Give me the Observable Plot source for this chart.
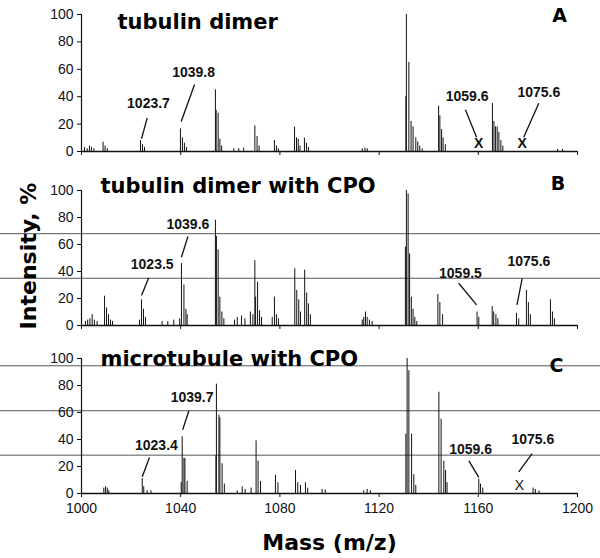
<!DOCTYPE html>
<html>
<head>
<meta charset="utf-8">
<script src="https://cdn.jsdelivr.net/npm/d3@7"></script>
<script src="https://cdn.jsdelivr.net/npm/@observablehq/plot@0.6"></script>
<style>
  html, body { margin: 0; padding: 0; background: #fff; }
  #chart { width: 600px; height: 558px; position: relative; overflow: hidden; background: #fff; }
  #chart svg { display: block; }
</style>
</head>
<body>
<div id="chart"></div>
<script>
// ---------- axis ticks ----------
const xTicks = [1000, 1040, 1080, 1120, 1160, 1200];
const yTicks = [0, 20, 40, 60, 80, 100];

// ---------- Panel A : tubulin dimer ----------
const massA = [1001.2,1002.3,1003.2,1004.0,1005.0,1008.7,1009.5,1010.4,1023.8,1024.6,1025.4,
  1039.9,1040.7,1041.5,1042.3,1054.0,1054.3,1055.1,1055.8,1056.5,1061.4,1063.4,1065.4,
  1069.9,1070.8,1071.6,1077.8,1078.6,1079.4,1085.9,1086.7,1087.4,1088.1,1089.9,1090.7,1091.5,
  1113.2,1114.3,1115.2,1130.8,1131.0,1132.0,1132.9,1133.7,1134.8,1135.6,1136.4,1137.4,
  1144.0,1144.5,1145.2,1145.8,1146.7,1165.7,1166.3,1166.9,1167.6,1168.3,1169.1,1169.9,1192.0,1194.0];
const intA = [3,2,4,3,2,6.8,4,2,8,5,3,
  16.5,10,6,3,45,30,28,9,4,2,2,2.5,
  18.7,11,4,8,4,2,17.8,10,9,4,9.7,6,3,
  2,2.5,2,40,100,65,22,18,10,7,4,2,
  33,26,16,10,5,35,22,18,18,14,8,4,1.5,1.5];
const annotA = [
  {label: "1023.7", tx: 1027.0, ty: 35.0, x1: 1026.5, y1: 24.6, x2: 1024.2, y2: 9.3},
  {label: "1039.8", tx: 1045.2, ty: 57.9, x1: 1045.6, y1: 48.9, x2: 1040.2, y2: 21.9},
  {label: "1059.6", tx: 1155.5, ty: 40.1, x1: 1154.8, y1: 30.4, x2: 1159.3, y2: 10.4},
  {label: "1075.6", tx: 1184.4, ty: 43.3, x1: 1184.4, y1: 35.3, x2: 1178.3, y2: 10.4}
];
const crossA = [{m: 1160.2, i: 5.6}, {m: 1177.7, i: 5.6}];
const scanA = [];

// ---------- Panel B : tubulin dimer with CPO ----------
const massB = [1001.6,1002.5,1003.4,1004.3,1005.2,1006.3,1009.3,1010.1,1010.9,1011.7,1012.5,
  1023.4,1024.2,1025.0,1025.8,1032.5,1034.8,1037.2,1039.6,1040.3,1041.3,1042.1,1042.6,
  1054.0,1054.4,1055.1,1055.8,1056.6,1057.4,1061.7,1062.8,1064.5,1065.9,
  1068.1,1069.1,1069.9,1070.2,1071.0,1071.8,1072.6,1076.9,1077.8,1078.6,1079.4,
  1086.0,1086.8,1087.6,1088.3,1090.0,1090.8,1091.5,1092.3,
  1113.2,1113.8,1114.5,1115.2,1116.1,1117.2,
  1130.6,1131.0,1131.7,1132.3,1133.0,1133.7,1134.4,1135.2,
  1143.7,1144.5,1145.6,1159.5,1160.2,1165.6,1166.2,1167.1,1167.9,
  1175.4,1176.3,1179.4,1180.2,1181.0,1189.1,1189.9,1190.7];
const intB = [3,4,5,8,4,3,21.7,13,8,4,3,
  4,19,12,6,3,3,4,5,46,30,12,8,
  78,66,56,21,10,5,4,6,7,5,
  10,8,48,21,32,11,6,6,21,8,5,
  42,26,19,10,41,24,16,8,
  4,6,10,6,4,3,
  58,100,97.5,53,21,12,6,3,
  23,17,8,10,6,14,10,8,5,
  9,5,26,17,8,19,10,5];
const annotB = [
  {label: "1023.5", tx: 1028.5, ty: 45.0, x1: 1027.1, y1: 35.3, x2: 1024.2, y2: 22.2},
  {label: "1039.6", tx: 1042.9, ty: 74.6, x1: 1042.9, y1: 65.9, x2: 1040.3, y2: 50.6},
  {label: "1059.5", tx: 1152.8, ty: 38.7, x1: 1152.1, y1: 31.3, x2: 1159.3, y2: 15.3},
  {label: "1075.6", tx: 1180.4, ty: 47.4, x1: 1177.7, y1: 35.0, x2: 1175.6, y2: 15.3}
];
const crossB = [];
const scanB = [68, 35];

// ---------- Panel C : microtubule with CPO ----------
const massC = [1009.0,1009.7,1010.4,1011.0,1024.5,1025.1,1026.5,1028.0,
  1040.2,1040.6,1041.3,1041.7,1042.6,1054.2,1054.4,1055.4,1055.8,1056.7,1057.6,
  1062.8,1064.8,1066.0,1068.4,1070.4,1071.2,1072.2,1078.2,1079.2,
  1086.3,1087.2,1088.3,1090.3,1091.2,1097.0,1098.3,
  1113.8,1115.2,1116.5,1130.8,1131.3,1132.0,1133.1,1134.0,1134.8,
  1144.1,1145.0,1146.1,1146.8,1147.4,1160.2,1160.9,1161.8,1182.1,1183.0,1184.5];
const intC = [4,5,4,2,11,5,2,2,
  8,42,26,26,9,28,81,58,56,22,7,
  2,5,3,4,39,24,9,13.6,8,
  17,8,6,8,4,3,2.5,
  2,3,2,44,100,91,44,14,6,
  75,55,24,17,8,10.6,7,4,4,3,2];
const annotC = [
  {label: "1023.4", tx: 1030.2, ty: 35.8, x1: 1027.4, y1: 26.7, x2: 1024.5, y2: 12.4},
  {label: "1039.7", tx: 1044.6, ty: 71.1, x1: 1043.3, y1: 61.3, x2: 1040.8, y2: 47.2},
  {label: "1059.6", tx: 1156.9, ty: 32.8, x1: 1156.2, y1: 24.2, x2: 1160.2, y2: 11.9},
  {label: "1075.6", tx: 1182.0, ty: 39.8, x1: 1181.7, y1: 29.6, x2: 1176.3, y2: 16.1}
];
const crossC = [{m: 1176.6, i: 6.1}];
const scanC = [94.6, 61.3, 28.4];

// ---------- drawing ----------
const NUM_FONT = "'Liberation Sans', Arial, sans-serif";
const TITLE_FONT = "'DejaVu Sans', Verdana, sans-serif";

function panel(cfg) {
  const peaks = cfg.mass.map((m, i) => ({m, v: cfg.inten[i]}));
  const marks = [
    Plot.ruleY(cfg.scan, {x1: 967, x2: 1210, stroke: "#555", strokeWidth: 1}),
    Plot.ruleX(peaks, {x: "m", y1: 0, y2: "v", stroke: "#111", strokeWidth: 1}),
    Plot.ruleY([0], {stroke: "#111", strokeWidth: 1.5}),
    Plot.ruleX([1000], {stroke: "#111", strokeWidth: 1.2}),
    Plot.axisY({ticks: yTicks, tickSize: 4, tickPadding: 4, fontSize: 14, label: null, fontFamily: NUM_FONT}),
    Plot.axisX({ticks: xTicks, tickSize: 4, tickPadding: 6, fontSize: 14, label: null, fontFamily: NUM_FONT,
      tickFormat: cfg.xLabels ? (d => String(d)) : (() => "")}),
    Plot.link(cfg.annots, {x1: "x1", y1: "y1", x2: "x2", y2: "y2", stroke: "#111", strokeWidth: 1.3}),
    Plot.text(cfg.annots, {x: "tx", y: "ty", text: "label", fontSize: 14, fontWeight: "bold",
      fontFamily: NUM_FONT, fill: "#111", lineAnchor: "middle"}),
    Plot.text(cfg.crosses, {x: "m", y: "i", text: () => "X", fontSize: 14, fontWeight: cfg.crossWeight,
      fontFamily: NUM_FONT, fill: "#111", lineAnchor: "middle"}),
    Plot.text([cfg.title], {frameAnchor: "top-left", dx: cfg.titleDx, dy: cfg.titleDy, textAnchor: "start",
      lineAnchor: "bottom", fontSize: 21, fontWeight: "bold", fontFamily: TITLE_FONT, fill: "#000"}),
    Plot.text([cfg.letter], {frameAnchor: "top-right", dx: cfg.letterDx, dy: cfg.letterDy, textAnchor: "middle",
      lineAnchor: "bottom", fontSize: 19, fontWeight: "bold", fontFamily: TITLE_FONT, fill: "#000"})
  ];
  if (cfg.extra) marks.push(...cfg.extra);
  return Plot.plot({
    width: 600,
    height: cfg.height,
    marginLeft: 81,
    marginRight: 23,
    marginTop: cfg.mt,
    marginBottom: cfg.mb,
    x: {domain: [1000, 1200]},
    y: {domain: [0, 100]},
    style: {fontFamily: NUM_FONT, fontSize: "14px", color: "#111", background: "#fff", overflow: "visible"},
    marks
  });
}

const chart = document.getElementById("chart");

chart.append(panel({
  mass: massA, inten: intA, annots: annotA, crosses: crossA, crossWeight: "bold", scan: scanA,
  title: "tubulin dimer", letter: "A", height: 170, mt: 14, mb: 19, xLabels: false,
  titleDx: 36, titleDy: 14, letterDx: -18, letterDy: 7
}));

chart.append(panel({
  mass: massB, inten: intB, annots: annotB, crosses: crossB, crossWeight: "bold", scan: scanB,
  title: "tubulin dimer with CPO", letter: "B", height: 170, mt: 20, mb: 15, xLabels: false,
  titleDx: 19, titleDy: 2, letterDx: -19.5, letterDy: -1,
  extra: [
    Plot.text(["Intensity, %"], {frameAnchor: "left", dx: -53, dy: -2, rotate: -90, textAnchor: "middle",
      lineAnchor: "middle", fontSize: 22, fontWeight: "bold", fontFamily: TITLE_FONT, fill: "#000"})
  ]
}));

chart.append(panel({
  mass: massC, inten: intC, annots: annotC, crosses: crossC, crossWeight: "normal", scan: scanC,
  title: "microtubule with CPO", letter: "C", height: 218, mt: 18, mb: 65, xLabels: true,
  titleDx: 19, titleDy: 7, letterDx: -21, letterDy: 13,
  extra: [
    Plot.text(["Mass (m/z)"], {frameAnchor: "bottom", dy: 49, textAnchor: "middle",
      lineAnchor: "middle", fontSize: 22, fontWeight: "bold", fontFamily: TITLE_FONT, fill: "#000"})
  ]
}));
</script>
</body>
</html>
